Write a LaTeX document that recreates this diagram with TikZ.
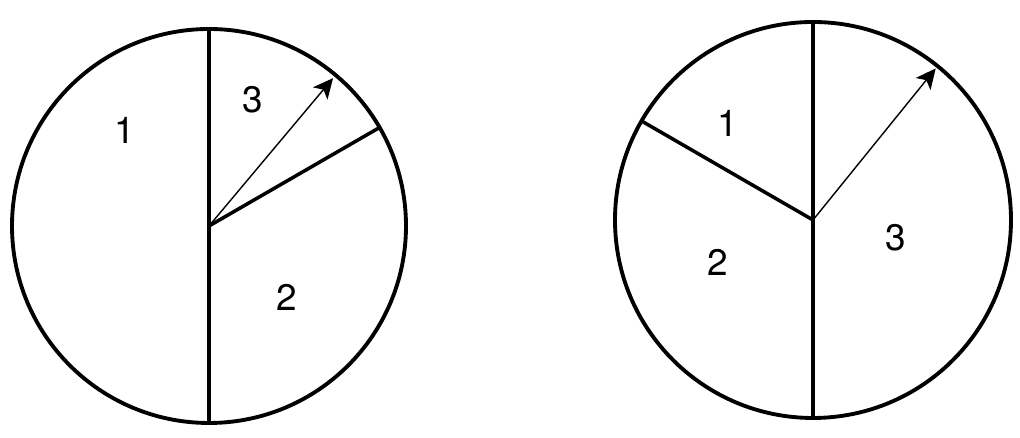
\documentclass[tikz,border=0pt]{standalone}
\usepackage{fontspec}
\setmainfont{TeX Gyre Heros}
\usetikzlibrary{arrows.meta,calc}

\begin{document}
\begin{tikzpicture}[>={Stealth[length=4mm,width=3.8mm,inset=1mm]},font=\fontsize{21}{25}\selectfont,line cap=round]
\useasboundingbox (0,0) rectangle (20.4,8.76);
% left spinner
\coordinate (L) at (4.18,4.24);
\draw[line width=2.2pt] (L) circle (3.94);
\draw[line width=2pt] ([yshift=3.94cm]L) -- ([yshift=-3.94cm]L);
\draw[line width=2pt] (L) -- ++(30:3.94);
\coordinate (Ltip) at ($(L)+(50:3.86)$);
\draw[->,line width=0.8pt] (L) -- (Ltip);
\node (L1) at (2.5,6.16) {1};
\node (L3) at (5.06,6.76) {3};
\node (L2) at (5.74,2.82) {2};
% right spinner
\coordinate (R) at (16.26,4.36);
\draw[line width=2.2pt] (R) circle (3.96);
\draw[line width=2pt] ([yshift=3.96cm]R) -- ([yshift=-3.96cm]R);
\draw[line width=2pt] (R) -- ++(150:3.96);
\coordinate (Rtip) at ($(R)+(51:3.9)$);
\draw[->,line width=0.8pt] (R) -- (Rtip);
\node (R1) at (14.56,6.3) {1};
\node (R2) at (14.36,3.52) {2};
\node (R3) at (17.92,4.0) {3};
\end{tikzpicture}
\end{document}
